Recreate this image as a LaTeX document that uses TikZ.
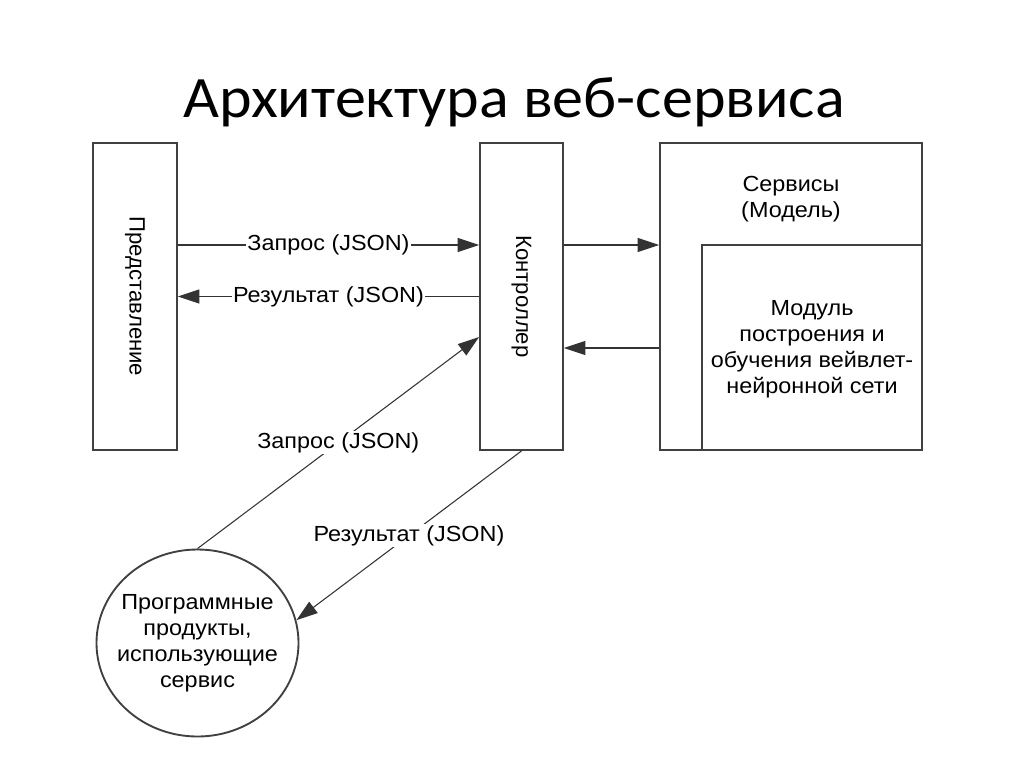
\documentclass[tikz,border=0pt]{standalone}
\usepackage{fontspec}
\setmainfont{Liberation Sans}
\newfontfamily\titlefont[FakeStretch=1.058]{Carlito}
\newfontfamily\diagfont[FakeStretch=1.07]{Liberation Sans}
\newfontfamily\rotfont{Liberation Sans}
\usetikzlibrary{arrows.meta,shapes.geometric,calc}
\begin{document}
\begin{tikzpicture}[x=0.75pt,y=-0.75pt,
  box/.style={draw=black!75,line width=1.4pt,rectangle,inner sep=0pt},
  txt/.style={font=\diagfont\fontsize{16.4}{19.5}\selectfont,align=center,inner sep=0pt},
  rtxt/.style={font=\rotfont\fontsize{16.6}{19.5}\selectfont,inner sep=0pt,rotate=-90},
  lbl/.style={font=\diagfont\fontsize{16.4}{19.5}\selectfont,fill=white,inner sep=1pt},
  arr/.style={draw=black!80,line width=0.8pt,-{Triangle[length=16pt,width=10.5pt]}},
]
\useasboundingbox (0,0) rectangle (1024,768);
\node[font=\titlefont\fontsize{44}{50}\selectfont,anchor=base] (title) at (514,117) {Архитектура веб-сервиса};

\node[box,minimum width=63pt,minimum height=230.25pt] (pres) at (135,296.5) {};
\node[rtxt] (prest) at (135,296.5) {Представление};
\node[box,minimum width=62.25pt,minimum height=230.25pt] (ctrl) at (521.5,296.5) {};
\node[rtxt] (ctrlt) at (521.5,296.5) {Контроллер};
\node[box,minimum width=196.5pt,minimum height=230.25pt] (svc) at (791,296.5) {};
\node[txt] (svct) at (791,199) {Сервисы\\(Модель)};
\node[box,minimum width=165pt,minimum height=153.75pt] (mod) at (812,347.5) {};
\node[txt] (modt) at (812,349) {Модуль\\построения и\\обучения вейвлет-\\нейронной сети};
\node[box,ellipse,minimum width=151.5pt,minimum height=140.25pt] (circ) at (197.5,643) {};
\node[txt] (circt) at (197.5,643) {Программные\\продукты,\\использующие\\сервис};

\coordinate (yq) at (0,245);
\coordinate (yr) at (0,348);
\coordinate (yc) at (0,337);

\draw[arr] (pres.east |- yq) -- node[lbl] {Запрос (JSON)} (ctrl.west |- yq);
\draw[arr] (ctrl.west) -- node[lbl] {Результат (JSON)} (pres.east);
\draw[arr] (ctrl.east |- yq) -- (svc.west |- yq);
\draw[arr] (svc.west |- yr) -- (ctrl.east |- yr);
\draw[arr] (circ.north) -- node[lbl] {Запрос (JSON)} (ctrl.west |- yc);
\draw[arr] (ctrl.south) -- node[lbl] {Результат (JSON)} (circ.13);
\end{tikzpicture}
\end{document}
